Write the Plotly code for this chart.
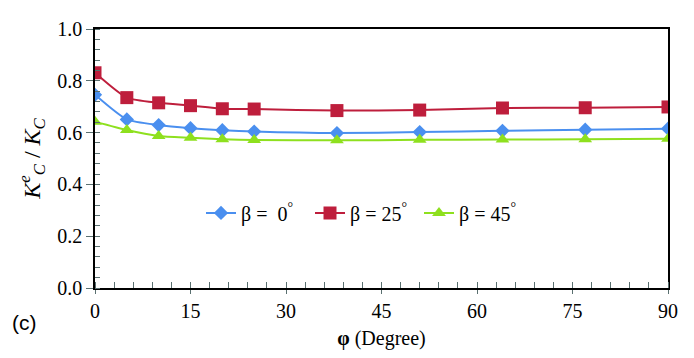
import plotly.graph_objects as go

phi = [0, 5, 10, 15, 20, 25, 38, 51, 64, 77, 90]
beta0 = [0.746, 0.651, 0.629, 0.617, 0.609, 0.604, 0.598, 0.602, 0.607, 0.611, 0.615]
beta25 = [0.831, 0.735, 0.715, 0.704, 0.692, 0.691, 0.685, 0.687, 0.695, 0.696, 0.699]
beta45 = [0.642, 0.610, 0.587, 0.580, 0.574, 0.571, 0.570, 0.572, 0.573, 0.574, 0.576]

names = ["β =  0<sup>°</sup>", "β = 25<sup>°</sup>", "β = 45<sup>°</sup>"]
colors = ["#4A8FEF", "#BE1E3C", "#8EE01E"]
symbols = ["diamond", "square", "triangle-up"]
sizes = [11, 13, 12]
xticks = [0, 15, 30, 45, 60, 75, 90]
yticks = [0.0, 0.2, 0.4, 0.6, 0.8, 1.0]

SERIF = "Liberation Serif"
TICKC = "#5A7070"

fig = go.Figure()
for ys, nm, c, s, sz in zip([beta0, beta25, beta45], names, colors, symbols, sizes):
    fig.add_trace(go.Scatter(
        x=phi, y=ys, name=nm, mode="lines+markers",
        line=dict(color=c, width=2, shape="spline", smoothing=0.6),
        marker=dict(symbol=s, size=sz, color=c),
    ))

# invisible trace on overlay axes for inside major ticks
fig.add_trace(go.Scatter(x=[0], y=[0], xaxis="x2", yaxis="y2", mode="markers",
                         marker=dict(opacity=0), showlegend=False, hoverinfo="skip"))

fig.update_layout(
    width=694, height=358,
    margin=dict(l=95, r=26, t=29, b=70),
    paper_bgcolor="white", plot_bgcolor="white",
    font=dict(family=SERIF, size=20, color="black"),
    showlegend=True,
    legend=dict(orientation="h", x=0.185, y=0.29, xanchor="left", yanchor="middle",
                bgcolor="rgba(0,0,0,0)", font=dict(family=SERIF, size=20),
                entrywidth=64, entrywidthmode="pixels", tracegroupgap=0),
    xaxis=dict(range=[0, 90], tickvals=xticks, ticks="outside", ticklen=4,
               tickcolor=TICKC, tickwidth=1, showgrid=False, zeroline=False,
               showline=True, linecolor="black", linewidth=1.5, mirror=True,
               minor=dict(dtick=3, ticks="inside", ticklen=6, tickcolor=TICKC, tickwidth=1, showgrid=False),
               tickfont=dict(family=SERIF, size=20, color="black"),
               title=dict(text="<b>φ</b> (Degree)", font=dict(family=SERIF, size=20), standoff=10)),
    yaxis=dict(range=[0, 1.0], tickvals=yticks, tickformat=".1f", ticks="outside", ticklen=7,
               tickcolor=TICKC, tickwidth=1, showgrid=False, zeroline=False,
               showline=True, linecolor="black", linewidth=1.5, mirror=True,
               minor=dict(dtick=0.04, ticks="inside", ticklen=5, tickcolor=TICKC, tickwidth=1, showgrid=False),
               tickfont=dict(family=SERIF, size=20, color="black"),
               title=dict(text="<i>K</i><sup><i>e</i></sup><sub><i>C</i></sub> / <i>K</i><sub><i>C</i></sub>",
                          font=dict(family=SERIF, size=24), standoff=10)),
    xaxis2=dict(range=[0, 90], overlaying="x", tickvals=xticks, ticks="inside", ticklen=5,
                tickcolor=TICKC, showticklabels=False, showgrid=False, zeroline=False, showline=False),
    yaxis2=dict(range=[0, 1.0], overlaying="y", tickvals=yticks, ticks="inside", ticklen=5,
                tickcolor=TICKC, showticklabels=False, showgrid=False, zeroline=False, showline=False),
)

fig.add_annotation(text="(c)", xref="paper", yref="paper", x=-0.148, y=-0.135,
                   xanchor="left", yanchor="middle", showarrow=False,
                   font=dict(family="Liberation Sans", size=21, color="black"))

fig.write_html("out.html")
